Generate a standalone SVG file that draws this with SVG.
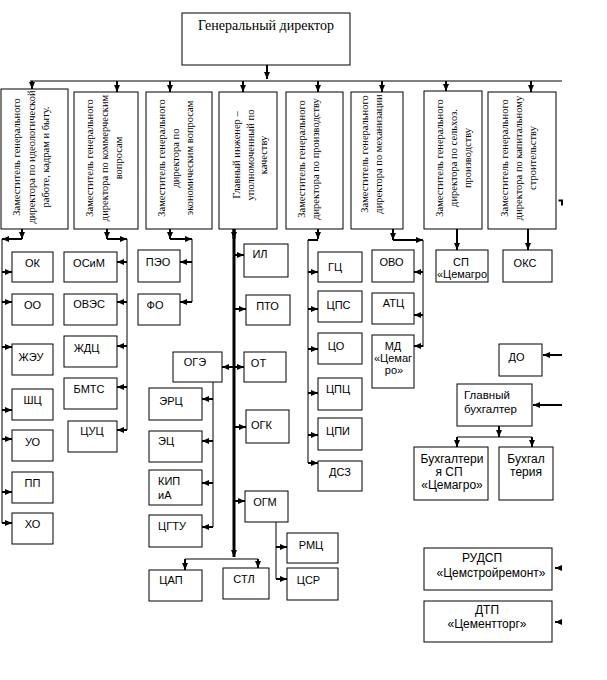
<svg xmlns="http://www.w3.org/2000/svg" width="607" height="680" viewBox="0 0 607 680">
<style>
.b{fill:#fff;stroke:#000;stroke-width:1}
.t{font-family:"Liberation Sans",Arial,sans-serif;font-size:11px;fill:#000}
.t12{font-family:"Liberation Sans",Arial,sans-serif;font-size:12px;fill:#000}
.s{font-family:"Liberation Serif","Times New Roman",serif;font-size:10.5px;fill:#000;text-anchor:middle}
.sd{font-family:"Liberation Serif","Times New Roman",serif;font-size:14px;fill:#000;text-anchor:middle}
.m{text-anchor:middle}
.c{stroke:#000;fill:none}
.w1{stroke-width:1}
.w2{stroke-width:2}
.w3{stroke-width:3}
</style>
<defs>
<marker id="ah" viewBox="0 0 7 6" refX="7" refY="3" markerWidth="7" markerHeight="6" orient="auto" markerUnits="userSpaceOnUse"><path d="M0,0 L7,3 L0,6 z" fill="#000"/></marker>
</defs>
<rect width="607" height="680" fill="#fff"/>

<g id="connectors" class="c">
<line class="w2" x1="267" y1="65" x2="267" y2="79" marker-end="url(#ah)"/>
<line class="w1" x1="30" y1="81" x2="562" y2="81"/>
<line class="w2" x1="32" y1="81" x2="32" y2="89" marker-end="url(#ah)"/>
<line class="w2" x1="117" y1="81" x2="117" y2="92" marker-end="url(#ah)"/>
<line class="w2" x1="170" y1="81" x2="170" y2="92" marker-end="url(#ah)"/>
<line class="w2" x1="243" y1="81" x2="243" y2="92" marker-end="url(#ah)"/>
<line class="w2" x1="318" y1="81" x2="318" y2="92" marker-end="url(#ah)"/>
<line class="w2" x1="382" y1="81" x2="382" y2="92" marker-end="url(#ah)"/>
<line class="w2" x1="446" y1="81" x2="446" y2="91" marker-end="url(#ah)"/>
<line class="w2" x1="531" y1="81" x2="531" y2="92" marker-end="url(#ah)"/>

<!-- column 1 -->
<line class="w2" x1="22" y1="229" x2="22" y2="239" marker-end="url(#ah)"/>
<line class="w2" x1="22" y1="239" x2="2" y2="239" marker-end="url(#ah)"/>
<line class="w1" x1="2" y1="239" x2="2" y2="523"/>
<line class="w2" x1="2" y1="272" x2="12" y2="272" marker-end="url(#ah)"/>
<line class="w2" x1="2" y1="302" x2="12" y2="302" marker-end="url(#ah)"/>
<line class="w2" x1="2" y1="347" x2="12" y2="347" marker-end="url(#ah)"/>
<line class="w2" x1="2" y1="410" x2="12" y2="410" marker-end="url(#ah)"/>
<line class="w2" x1="2" y1="439" x2="12" y2="439" marker-end="url(#ah)"/>
<line class="w2" x1="2" y1="492" x2="12" y2="492" marker-end="url(#ah)"/>
<line class="w2" x1="2" y1="523" x2="12" y2="523" marker-end="url(#ah)"/>

<!-- column 2 -->
<line class="w2" x1="107" y1="229" x2="107" y2="239" marker-end="url(#ah)"/>
<line class="w2" x1="107" y1="239" x2="127" y2="239" marker-end="url(#ah)"/>
<line class="w1" x1="127" y1="239" x2="127" y2="430"/>
<line class="w2" x1="127" y1="262" x2="117" y2="262" marker-end="url(#ah)"/>
<line class="w2" x1="127" y1="302" x2="117" y2="302" marker-end="url(#ah)"/>
<line class="w2" x1="127" y1="346" x2="117" y2="346" marker-end="url(#ah)"/>
<line class="w2" x1="127" y1="387" x2="117" y2="387" marker-end="url(#ah)"/>
<line class="w2" x1="127" y1="430" x2="117" y2="430" marker-end="url(#ah)"/>

<!-- column 3 -->
<line class="w2" x1="170" y1="229" x2="170" y2="239" marker-end="url(#ah)"/>
<line class="w2" x1="170" y1="239" x2="192" y2="239" marker-end="url(#ah)"/>
<line class="w1" x1="192" y1="239" x2="192" y2="302"/>
<line class="w2" x1="192" y1="262" x2="180" y2="262" marker-end="url(#ah)"/>
<line class="w2" x1="192" y1="302" x2="180" y2="302" marker-end="url(#ah)"/>

<!-- column 4 -->
<line class="w3" x1="234" y1="229" x2="234" y2="557" marker-end="url(#ah)"/>
<line class="w3" x1="234" y1="229" x2="234" y2="239" marker-end="url(#ah)"/>
<line class="w2" x1="235" y1="255" x2="244" y2="255" marker-end="url(#ah)"/>
<line class="w2" x1="235" y1="309" x2="246" y2="309" marker-end="url(#ah)"/>
<line class="w2" x1="235" y1="367" x2="244" y2="367" marker-end="url(#ah)"/>
<line class="w2" x1="233" y1="367" x2="222" y2="367" marker-end="url(#ah)"/>
<line class="w2" x1="235" y1="427" x2="246" y2="427" marker-end="url(#ah)"/>
<line class="w2" x1="235" y1="501" x2="245" y2="501" marker-end="url(#ah)"/>
<line class="w1" x1="185" y1="559" x2="258" y2="559"/>
<line class="w2" x1="185" y1="559" x2="185" y2="570" marker-end="url(#ah)"/>
<line class="w2" x1="258" y1="559" x2="258" y2="568" marker-end="url(#ah)"/>
<line class="w1" x1="213" y1="382" x2="213" y2="527"/>
<line class="w2" x1="213" y1="399" x2="202" y2="399" marker-end="url(#ah)"/>
<line class="w2" x1="213" y1="441" x2="202" y2="441" marker-end="url(#ah)"/>
<line class="w2" x1="213" y1="483" x2="202" y2="483" marker-end="url(#ah)"/>
<line class="w2" x1="213" y1="527" x2="202" y2="527" marker-end="url(#ah)"/>
<line class="w1" x1="276" y1="522" x2="276" y2="579"/>
<line class="w2" x1="276" y1="547" x2="287" y2="547" marker-end="url(#ah)"/>
<line class="w2" x1="276" y1="579" x2="287" y2="579" marker-end="url(#ah)"/>

<!-- column 5 -->
<line class="w2" x1="318" y1="229" x2="318" y2="239" marker-end="url(#ah)"/>
<line class="w2" x1="318" y1="240" x2="308" y2="240"/>
<line class="w1" x1="308" y1="240" x2="308" y2="463"/>
<line class="w2" x1="308" y1="272" x2="318" y2="272" marker-end="url(#ah)"/>
<line class="w2" x1="308" y1="309" x2="318" y2="309" marker-end="url(#ah)"/>
<line class="w2" x1="308" y1="349" x2="318" y2="349" marker-end="url(#ah)"/>
<line class="w2" x1="308" y1="393" x2="318" y2="393" marker-end="url(#ah)"/>
<line class="w2" x1="308" y1="435" x2="318" y2="435" marker-end="url(#ah)"/>
<line class="w2" x1="308" y1="463" x2="318" y2="463" marker-end="url(#ah)"/>

<!-- column 6 -->
<line class="w2" x1="393" y1="229" x2="393" y2="240" marker-end="url(#ah)"/>
<line class="w2" x1="393" y1="240" x2="423" y2="240" marker-end="url(#ah)"/>
<line class="w1" x1="423" y1="240" x2="423" y2="347"/>
<line class="w2" x1="423" y1="272" x2="414" y2="272" marker-end="url(#ah)"/>
<line class="w2" x1="423" y1="315" x2="414" y2="315" marker-end="url(#ah)"/>
<line class="w2" x1="423" y1="346" x2="414" y2="346" marker-end="url(#ah)"/>

<!-- columns 7, 8 -->
<line class="w2" x1="457" y1="229" x2="457" y2="250" marker-end="url(#ah)"/>
<line class="w2" x1="528" y1="229" x2="528" y2="250" marker-end="url(#ah)"/>

<!-- right side -->
<line class="w2" x1="562" y1="355" x2="543" y2="355" marker-end="url(#ah)"/>
<line class="w2" x1="562" y1="405" x2="533" y2="405" marker-end="url(#ah)"/>
<line class="w2" x1="499" y1="426" x2="499" y2="437" marker-end="url(#ah)"/>
<line class="w1" x1="457" y1="437" x2="532" y2="437"/>
<line class="w2" x1="457" y1="437" x2="457" y2="447" marker-end="url(#ah)"/>
<line class="w2" x1="532" y1="437" x2="532" y2="447" marker-end="url(#ah)"/>
<line class="w2" x1="562" y1="568" x2="555" y2="568" marker-end="url(#ah)"/>
<line class="w2" x1="562" y1="622" x2="555" y2="622" marker-end="url(#ah)"/>
<path d="M558.5,199.5 H563 V205.5 H561 V201.5 H558.5 Z" fill="#000" stroke="none"/>
</g>

<g id="n-director"><rect class="b" x="182" y="13" width="168" height="52"/><text class="sd" x="266" y="30">Генеральный директор</text></g>

<g id="n-v1"><rect class="b" x="1" y="89" width="67" height="140"/>
<text class="s" transform="translate(20,157) rotate(-90)">Заместитель генерального</text>
<text class="s" transform="translate(35,157) rotate(-90)">директора по идеологической</text>
<text class="s" transform="translate(49,157) rotate(-90)">работе, кадрам и быту.</text></g>

<g id="n-v2"><rect class="b" x="74" y="92" width="64" height="137"/>
<text class="s" transform="translate(93,158) rotate(-90)">Заместитель генерального</text>
<text class="s" transform="translate(108,158) rotate(-90)">директора по коммерческим</text>
<text class="s" transform="translate(122,158) rotate(-90)">вопросам</text></g>

<g id="n-v3"><rect class="b" x="146" y="92" width="66" height="137"/>
<text class="s" transform="translate(165,158) rotate(-90)">Заместитель генерального</text>
<text class="s" transform="translate(179,158) rotate(-90)">директора по</text>
<text class="s" transform="translate(193,158) rotate(-90)">экономическим вопросам</text></g>

<g id="n-v4"><rect class="b" x="219" y="92" width="58" height="137"/>
<text class="s" transform="translate(240,155) rotate(-90)">Главный инженер –</text>
<text class="s" transform="translate(254,155) rotate(-90)">уполномоченный по</text>
<text class="s" transform="translate(267,155) rotate(-90)">качеству</text></g>

<g id="n-v5"><rect class="b" x="286" y="92" width="57" height="137"/>
<text class="s" transform="translate(305,159) rotate(-90)">Заместитель генерального</text>
<text class="s" transform="translate(319,159) rotate(-90)">директора по производству</text></g>

<g id="n-v6"><rect class="b" x="351" y="92" width="52" height="137"/>
<text class="s" transform="translate(368,154) rotate(-90)">Заместитель генерального</text>
<text class="s" transform="translate(382,154) rotate(-90)">директора по механизации</text></g>

<g id="n-v7"><rect class="b" x="424" y="91" width="58" height="138"/>
<text class="s" transform="translate(443,158) rotate(-90)">Заместитель генерального</text>
<text class="s" transform="translate(457,158) rotate(-90)">директора по сельхоз.</text>
<text class="s" transform="translate(471,158) rotate(-90)">производству</text></g>

<g id="n-v8"><rect class="b" x="488" y="92" width="68" height="137"/>
<text class="s" transform="translate(508,158) rotate(-90)">Заместитель генерального</text>
<text class="s" transform="translate(522,158) rotate(-90)">директора по капитальному</text>
<text class="s" transform="translate(536,158) rotate(-90)">строительству</text></g>

<g id="n-ok"><rect class="b" x="12" y="252" width="41" height="30"/><text class="t m" x="32.5" y="267">ОК</text></g>
<g id="n-oo"><rect class="b" x="12" y="294" width="41" height="31"/><text class="t m" x="32.5" y="309">ОО</text></g>
<g id="n-zheu"><rect class="b" x="12" y="344" width="41" height="31"/><text class="t m" x="31" y="361">ЖЭУ</text></g>
<g id="n-shc"><rect class="b" x="12" y="389" width="41" height="31"/><text class="t m" x="32.5" y="404">ШЦ</text></g>
<g id="n-uo"><rect class="b" x="12" y="430" width="41" height="31"/><text class="t m" x="32.5" y="446">УО</text></g>
<g id="n-pp"><rect class="b" x="12" y="472" width="41" height="31"/><text class="t m" x="32.5" y="487">ПП</text></g>
<g id="n-ho"><rect class="b" x="12" y="513" width="41" height="31"/><text class="t m" x="32.5" y="528">ХО</text></g>

<g id="n-osim"><rect class="b" x="64" y="252" width="53" height="30"/><text class="t m" x="89" y="267">ОСиМ</text></g>
<g id="n-oves"><rect class="b" x="64" y="294" width="53" height="31"/><text class="t m" x="89" y="308">ОВЭС</text></g>
<g id="n-zhdc"><rect class="b" x="64" y="336" width="53" height="31"/><text class="t m" x="86.5" y="352">ЖДЦ</text></g>
<g id="n-bmts"><rect class="b" x="64" y="378" width="53" height="31"/><text class="t m" x="89" y="393">БМТС</text></g>
<g id="n-cuc"><rect class="b" x="68" y="421" width="49" height="31"/><text class="t m" x="92" y="435">ЦУЦ</text></g>

<g id="n-peo"><rect class="b" x="138" y="250" width="42" height="32"/><text class="t m" x="158" y="266">ПЭО</text></g>
<g id="n-fo"><rect class="b" x="138" y="294" width="42" height="31"/><text class="t m" x="155" y="309">ФО</text></g>

<g id="n-oge"><rect class="b" x="173" y="352" width="49" height="30"/><text class="t m" x="195" y="366">ОГЭ</text></g>
<g id="n-erc"><rect class="b" x="149" y="388" width="53" height="32"/><text class="t m" x="171" y="405">ЭРЦ</text></g>
<g id="n-ec"><rect class="b" x="149" y="431" width="53" height="31"/><text class="t m" x="166" y="445">ЭЦ</text></g>
<g id="n-kipia"><rect class="b" x="149" y="470" width="53" height="35"/><text class="t" x="158" y="485">КИП</text><text class="t" x="158" y="499">иА</text></g>
<g id="n-cgtu"><rect class="b" x="149" y="515" width="53" height="32"/><text class="t m" x="172" y="530">ЦГТУ</text></g>

<g id="n-il"><rect class="b" x="244" y="244" width="44" height="33"/><text class="t m" x="260" y="258">ИЛ</text></g>
<g id="n-pto"><rect class="b" x="246" y="295" width="44" height="30"/><text class="t m" x="267.5" y="310">ПТО</text></g>
<g id="n-ot"><rect class="b" x="244" y="352" width="42" height="30"/><text class="t m" x="258.5" y="367">ОТ</text></g>
<g id="n-ogk"><rect class="b" x="246" y="410" width="43" height="33"/><text class="t m" x="261.5" y="429">ОГК</text></g>
<g id="n-ogm"><rect class="b" x="245" y="491" width="43" height="31"/><text class="t m" x="265" y="506">ОГМ</text></g>
<g id="n-cap"><rect class="b" x="149" y="570" width="53" height="31"/><text class="t m" x="171" y="584">ЦАП</text></g>
<g id="n-stl"><rect class="b" x="223" y="568" width="46" height="31"/><text class="t m" x="244" y="583">СТЛ</text></g>
<g id="n-rmc"><rect class="b" x="287" y="533" width="51" height="30"/><text class="t m" x="311" y="549">РМЦ</text></g>
<g id="n-csr"><rect class="b" x="287" y="568" width="51" height="32"/><text class="t m" x="308.5" y="584">ЦСР</text></g>

<g id="n-gc"><rect class="b" x="318" y="252" width="44" height="30"/><text class="t m" x="335" y="271">ГЦ</text></g>
<g id="n-cps"><rect class="b" x="318" y="291" width="44" height="31"/><text class="t m" x="338.5" y="309">ЦПС</text></g>
<g id="n-co"><rect class="b" x="318" y="333" width="44" height="31"/><text class="t m" x="336" y="350">ЦО</text></g>
<g id="n-cpc"><rect class="b" x="318" y="378" width="44" height="32"/><text class="t m" x="338" y="393">ЦПЦ</text></g>
<g id="n-cpi"><rect class="b" x="318" y="418" width="44" height="32"/><text class="t m" x="338" y="435">ЦПИ</text></g>
<g id="n-dsz"><rect class="b" x="318" y="461" width="44" height="30"/><text class="t m" x="340" y="476">ДСЗ</text></g>

<g id="n-ovo"><rect class="b" x="372" y="250" width="42" height="32"/><text class="t m" x="391.5" y="266">ОВО</text></g>
<g id="n-atc"><rect class="b" x="372" y="293" width="42" height="31"/><text class="t m" x="393.5" y="307">АТЦ</text></g>
<g id="n-md"><rect class="b" x="372" y="335" width="42" height="53"/><text class="t m" x="393" y="350">МД</text><text class="t m" x="393" y="362">«Цемаг</text><text class="t m" x="394" y="374">ро»</text></g>

<g id="n-sp"><rect class="b" x="436" y="250" width="52" height="32"/><text class="t m" x="461" y="266">СП</text><text class="t m" x="462" y="278" textLength="50" lengthAdjust="spacingAndGlyphs">«Цемагро</text></g>
<g id="n-oks"><rect class="b" x="503" y="250" width="49" height="32"/><text class="t m" x="525" y="267">ОКС</text></g>

<g id="n-do"><rect class="b" x="499" y="344" width="43" height="32"/><text class="t m" x="516.5" y="361">ДО</text></g>
<g id="n-gb"><rect class="b" x="457" y="384" width="75" height="42"/><text class="t" x="464" y="399" style="font-size:11.5px">Главный</text><text class="t" x="464" y="413" style="font-size:11.5px">бухгалтер</text></g>
<g id="n-buhsp"><rect class="b" x="414" y="447" width="74" height="53"/><text class="t12 m" x="452" y="463">Бухгалтери</text><text class="t12 m" x="449" y="476">я СП</text><text class="t12 m" x="452" y="489">«Цемагро»</text></g>
<g id="n-buh"><rect class="b" x="499" y="447" width="54" height="53"/><text class="t12 m" x="526" y="463">Бухгал</text><text class="t12 m" x="526" y="476">терия</text></g>
<g id="n-rudsp"><rect class="b" x="424" y="548" width="128" height="42"/><text class="t12 m" x="482" y="562">РУДСП</text><text class="t12 m" x="491" y="577">«Цемстройремонт»</text></g>
<g id="n-dtp"><rect class="b" x="424" y="601" width="128" height="41"/><text class="t12 m" x="487" y="614">ДТП</text><text class="t12 m" x="487" y="628">«Цементторг»</text></g>
</svg>
